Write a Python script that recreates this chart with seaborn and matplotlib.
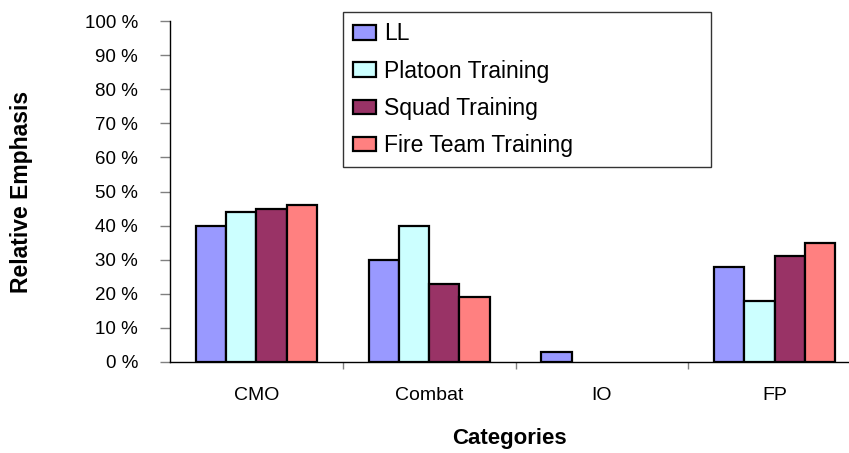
import matplotlib
matplotlib.use("Agg")
import matplotlib.pyplot as plt
from matplotlib.patches import Patch
from matplotlib.ticker import FixedLocator, FuncFormatter
import seaborn as sns
import pandas as pd

categories = ["CMO", "Combat", "IO", "FP"]
series = ["LL", "Platoon Training", "Squad Training", "Fire Team Training"]
ll = [40, 30, 3, 28]
platoon = [44, 40, 0, 18]
squad = [45, 23, 0, 31]
fire_team = [46, 19, 0, 35]
colors = ["#9999FF", "#CCFFFF", "#993366", "#FF8080"]

rows = []
for name, vals in zip(series, [ll, platoon, squad, fire_team]):
    for cat, v in zip(categories, vals):
        rows.append({"Category": cat, "Series": name, "Value": v})
df = pd.DataFrame(rows)

sns.set_theme(style="white")
plt.rcParams["font.family"] = ["Liberation Sans", "DejaVu Sans"]
plt.rcParams["text.color"] = "black"

fig = plt.figure(figsize=(8.49, 4.53), dpi=100)
ax = fig.add_axes([0.2002, 0.2009, 0.7998, 0.7527])

sns.barplot(data=df, x="Category", y="Value", hue="Series", order=categories,
            hue_order=series, palette=colors, width=0.7, saturation=1,
            edgecolor="black", linewidth=1.6, legend=False, ax=ax)

# zero bars should not leave an outline on the axis
for p in ax.patches:
    if p.get_height() == 0:
        p.set_linewidth(0)

ax.set_ylim(0, 100)
ax.set_xlim(-0.5, 3.43)
ax.set_yticks(range(0, 101, 10))
ax.yaxis.set_major_formatter(FuncFormatter(lambda v, _: f"{int(v)} %"))
ax.tick_params(axis="y", left=True, length=7, width=1, color="#808080",
               pad=16, labelsize=13.5, labelcolor="black")
ax.tick_params(axis="x", which="major", bottom=False, pad=12, labelsize=14,
               labelcolor="black")
ax.xaxis.set_minor_locator(FixedLocator([0.5, 1.5, 2.5]))
ax.tick_params(axis="x", which="minor", bottom=True, length=5, width=1,
               color="#808080")

for s in ["top", "right"]:
    ax.spines[s].set_visible(False)
for s in ["left", "bottom"]:
    ax.spines[s].set_color("black")
    ax.spines[s].set_linewidth(1)

ax.set_ylabel("Relative Emphasis", fontsize=16.5, fontweight="bold", color="black")
ax.set_xlabel("Categories", fontsize=16, fontweight="bold", color="black")
ax.yaxis.set_label_coords(-0.202, 0.5)
ax.xaxis.set_label_coords(0.5, -0.195)

handles = [Patch(facecolor=c, edgecolor="black", linewidth=1.6, label=n)
           for c, n in zip(colors, series)]
leg = ax.legend(handles=handles, loc="upper left", mode="expand",
                bbox_to_anchor=(0.2548, 0.5, 0.542, 0.526), fontsize=16.5,
                frameon=True, fancybox=False, edgecolor="black",
                handlelength=1.0, handleheight=0.6, handletextpad=0.35,
                borderpad=0.45, labelspacing=0.62, borderaxespad=0)
leg.get_frame().set_linewidth(1)
for t in leg.get_texts():
    t.set_color("black")

fig.savefig("out.png", dpi=100)
